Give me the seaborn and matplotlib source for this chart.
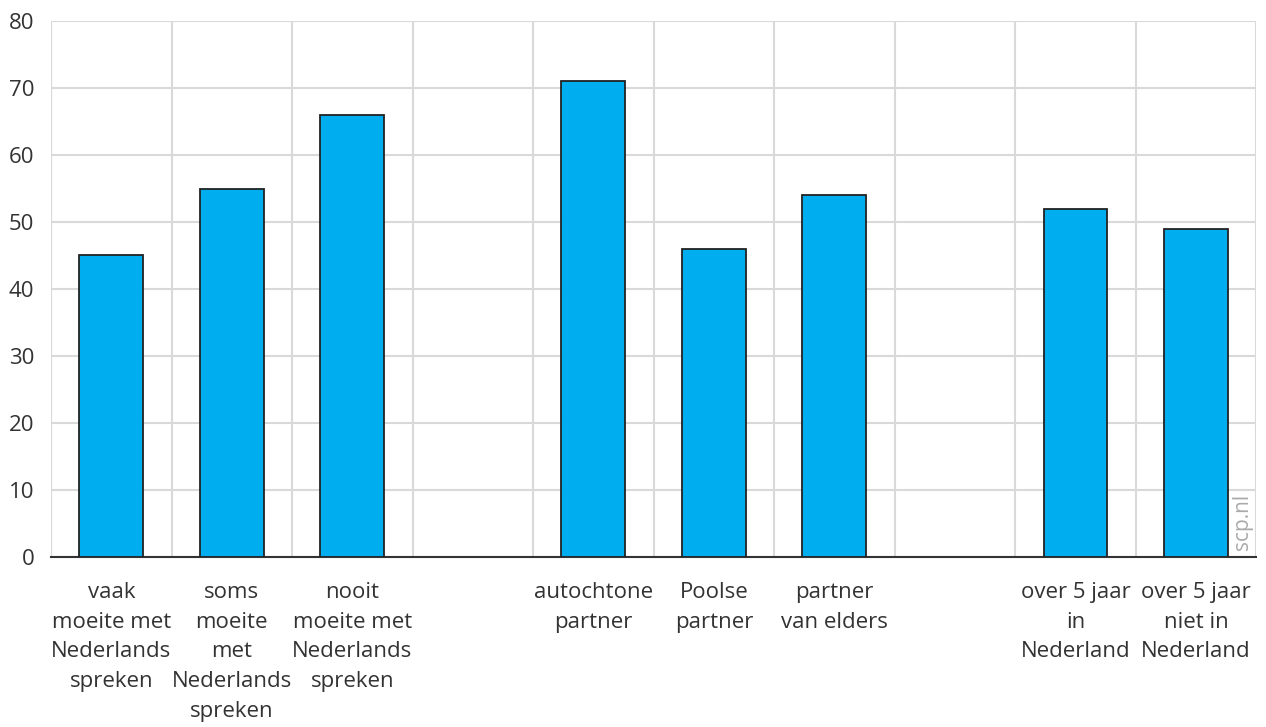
import numpy as np
import pandas as pd
import seaborn as sns
import matplotlib.pyplot as plt
from matplotlib.ticker import MultipleLocator

# Categories (empty names are the gaps between groups)
categories = [
    "vaak\nmoeite met\nNederlands\nspreken",
    "soms\nmoeite\nmet\nNederlands\nspreken",
    "nooit\nmoeite met\nNederlands\nspreken",
    " ",
    "autochtone\npartner",
    "Poolse\npartner",
    "partner\nvan elders",
    "  ",
    "over 5 jaar\nin\nNederland",
    "over 5 jaar\nniet in\nNederland",
]
values = [45, 55, 66, np.nan, 71, 46, 54, np.nan, 52, 49]
y_ticks = [0, 10, 20, 30, 40, 50, 60, 70, 80]

df = pd.DataFrame({"label": categories, "value": values})

sns.set_style("white")
plt.rcParams['font.family'] = ['Open Sans', 'DejaVu Sans']
text_color = "#333333"

fig = plt.figure(figsize=(12.66, 7.27), dpi=100)
ax = fig.add_axes([0.0403, 0.234, 0.952, 0.737])

sns.barplot(
    data=df.dropna(), x="label", y="value", order=categories,
    color="#00AEEF", saturation=1, width=0.53,
    edgecolor="#222222", linewidth=1.3, ax=ax, zorder=3
)

n = len(categories)
ax.set_xlim(-0.5, n - 0.5)
ax.set_ylim(0, 80)
ax.set_yticks(y_ticks)

bar_pos = [i for i, v in enumerate(values) if not np.isnan(v)]
ax.set_xticks(bar_pos)
ax.set_xticklabels([categories[i] for i in bar_pos], fontsize=16,
                   color=text_color, linespacing=1.55)
ax.xaxis.set_minor_locator(MultipleLocator(1, offset=0.5))
ax.tick_params(axis="x", which="major", length=7, width=1.5,
               color="#333333", pad=11)
ax.tick_params(axis="x", which="minor", length=0)
ax.tick_params(axis="y", length=0, labelsize=16, labelcolor=text_color, pad=12)

ax.grid(axis="y", which="major", color="#d9d9d9", linewidth=1.5, zorder=0)
ax.grid(axis="x", which="minor", color="#d9d9d9", linewidth=1.5, zorder=0)
ax.set_axisbelow(True)

for s in ["top", "right", "left"]:
    ax.spines[s].set_visible(False)
ax.axvline(-0.5, color="#d9d9d9", linewidth=1.5, zorder=0)
ax.spines["bottom"].set_color("#333333")
ax.spines["bottom"].set_linewidth(1.5)
ax.set_xlabel("")
ax.set_ylabel("")

ax.text(0.997, 0.012, "scp.nl", transform=ax.transAxes, rotation=90,
        ha="right", va="bottom", fontsize=15, color="#aaaaaa")

fig.savefig("out.png", dpi=100)
